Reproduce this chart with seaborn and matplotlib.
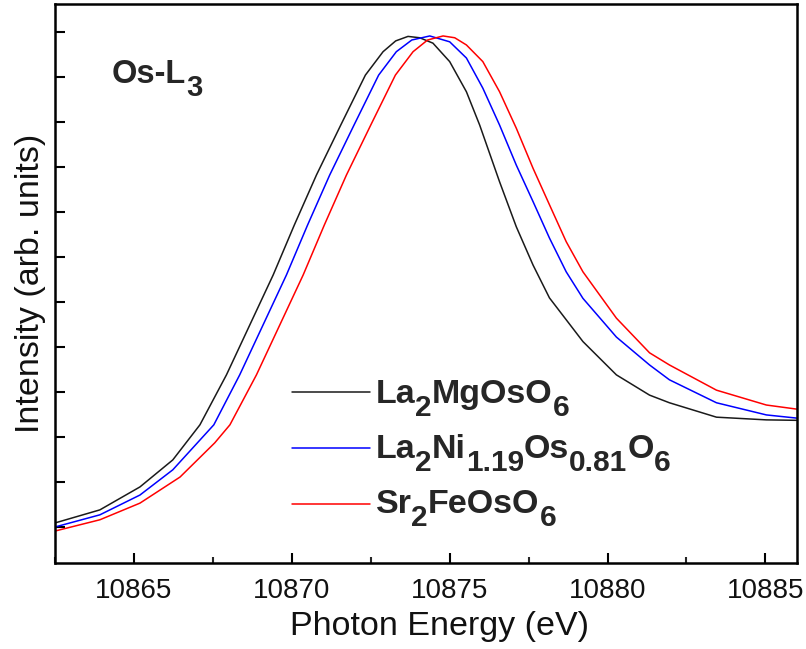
import numpy as np
import pandas as pd
import matplotlib
matplotlib.use('Agg')
import matplotlib.pyplot as plt
from matplotlib.ticker import MultipleLocator
import seaborn as sns

# values (energy in eV, intensity in arb. units)
e_mg = [10862.50, 10863.92, 10865.19, 10866.23, 10867.09, 10867.93, 10868.67, 10869.41,
        10870.08, 10870.78, 10871.55, 10872.33, 10872.89, 10873.29, 10873.68, 10874.05,
        10874.47, 10875.00, 10875.53, 10875.95, 10876.58, 10877.11, 10877.64, 10878.16,
        10879.22, 10880.28, 10881.33, 10881.96, 10883.45, 10885.03, 10885.98]
i_mg = [0.009, 0.038, 0.089, 0.149, 0.227, 0.338, 0.449, 0.560,
        0.671, 0.782, 0.893, 1.004, 1.056, 1.080, 1.090, 1.087,
        1.075, 1.034, 0.967, 0.893, 0.767, 0.667, 0.582, 0.509,
        0.412, 0.338, 0.293, 0.276, 0.244, 0.238, 0.237]

e_ni = [10862.50, 10863.92, 10865.19, 10866.23, 10867.53, 10868.35, 10869.09, 10869.83,
        10870.50, 10871.20, 10871.97, 10872.75, 10873.31, 10873.80, 10874.37, 10875.00,
        10875.53, 10876.05, 10876.58, 10877.11, 10877.64, 10878.16, 10878.69, 10879.22,
        10880.28, 10881.33, 10881.96, 10883.45, 10885.03, 10885.98]
i_ni = [0.000, 0.027, 0.071, 0.127, 0.227, 0.338, 0.449, 0.560,
        0.671, 0.782, 0.893, 1.004, 1.056, 1.082, 1.091, 1.078,
        1.042, 0.975, 0.893, 0.804, 0.723, 0.642, 0.567, 0.508,
        0.422, 0.360, 0.327, 0.276, 0.249, 0.242]

e_fe = [10862.50, 10863.92, 10865.19, 10866.46, 10867.56, 10868.04, 10868.88, 10869.62,
        10870.36, 10871.03, 10871.73, 10872.50, 10873.28, 10873.84, 10874.30, 10874.79,
        10875.16, 10875.53, 10876.05, 10876.58, 10877.11, 10877.64, 10878.16, 10878.69,
        10879.22, 10880.28, 10881.33, 10881.96, 10883.45, 10885.03, 10885.98]
i_fe = [-0.009, 0.016, 0.053, 0.111, 0.187, 0.227, 0.338, 0.449,
        0.560, 0.671, 0.782, 0.893, 1.004, 1.056, 1.082, 1.091,
        1.087, 1.071, 1.034, 0.967, 0.886, 0.797, 0.716, 0.634,
        0.567, 0.464, 0.387, 0.360, 0.304, 0.271, 0.262]

# formulas as (text, is_subscript) pieces
f_mg = [('La', 0), ('2', 1), ('MgOsO', 0), ('6', 1)]
f_ni = [('La', 0), ('2', 1), ('Ni', 0), ('1.19', 1), ('Os', 0), ('0.81', 1), ('O', 0), ('6', 1)]
f_fe = [('Sr', 0), ('2', 1), ('FeOsO', 0), ('6', 1)]
edge = [('Os-L', 0), ('3', 1)]
names = ['La2MgOsO6', 'La2Ni1.19Os0.81O6', 'Sr2FeOsO6']
colors = ['#1a1a1a', '#0000ff', '#ff0000']

df = pd.concat([
    pd.DataFrame({'E': e_mg, 'I': i_mg, 'sample': names[0]}),
    pd.DataFrame({'E': e_ni, 'I': i_ni, 'sample': names[1]}),
    pd.DataFrame({'E': e_fe, 'I': i_fe, 'sample': names[2]}),
])

sns.set_style('ticks')
plt.rcParams['font.family'] = ['Liberation Sans', 'DejaVu Sans']


def formula(ax, x, y, parts, size, sub_size, drop, gap=0.0):
    # chain text pieces so subscripts can be nearly full size
    t = ax.text(x, y, parts[0][0], transform=ax.transAxes, fontsize=size,
                fontweight='bold', va='baseline', ha='left')
    prev = parts[0][1]
    for txt, sub in parts[1:]:
        dy = 0
        if sub and not prev:
            dy = -drop
        elif prev and not sub:
            dy = drop
        t = ax.annotate(txt, xy=(1, 0), xycoords=t, xytext=(gap if sub else 0, dy),
                        textcoords='offset points', fontsize=sub_size if sub else size,
                        fontweight='bold', va='bottom', ha='left')
        prev = sub
    return t


fig = plt.figure(figsize=(8.06, 6.49), dpi=100)
ax = fig.add_axes([55/806, 1-563/649, (797-55)/806, (563-4)/649])

sns.lineplot(data=df, x='E', y='I', hue='sample', palette=colors, sort=False,
             estimator=None, linewidth=1.1, ax=ax)

ax.set_xlim(10862.5, 10886.0)
ax.set_ylim(-0.08, 1.162)
ax.xaxis.set_major_locator(MultipleLocator(5))
ax.xaxis.set_minor_locator(MultipleLocator(2.5))
ax.yaxis.set_major_locator(MultipleLocator(0.1))
ax.set_yticklabels([])
ax.tick_params(axis='both', which='major', direction='in', length=7.5, width=1.5,
               labelsize=20, color='black', labelcolor='#111111')
ax.tick_params(axis='x', which='minor', direction='in', length=4, width=1.5)
ax.tick_params(axis='x', pad=11)
for s in ax.spines.values():
    s.set_linewidth(1.8)
    s.set_color('black')

ax.set_xlabel('Photon Energy (eV)', fontsize=24.5, labelpad=5, color='#111111')
ax.xaxis.label.set_x((440-55)/742)
ax.set_ylabel('Intensity (arb. units)', fontsize=24.5, labelpad=3, color='#111111')

formula(ax, (112-55)/742, (563-83)/559, edge, 23.5, 21, 8.6, gap=0)

handles, _ = ax.get_legend_handles_labels()
leg = ax.legend(handles, ['', '', ''], loc='upper left',
                bbox_to_anchor=((292-55)/742, (563-380)/559),
                frameon=False, fontsize=24.5, handlelength=2.29, handletextpad=0.2,
                labelspacing=0.74, borderpad=0, borderaxespad=0)
for f, base in zip([f_mg, f_ni, f_fe], [403, 458, 513]):
    formula(ax, (375.5-55)/742, (563-base)/559, f, 24.5, 21.5, 8.6)

fig.savefig('out.png', dpi=100)
